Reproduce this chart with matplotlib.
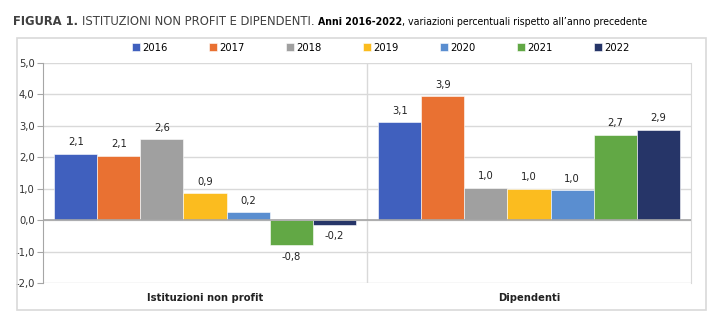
import numpy as np
import matplotlib.pyplot as plt
from matplotlib.patches import Rectangle

categories = ['Istituzioni non profit', 'Dipendenti']
years = ['2016', '2017', '2018', '2019', '2020', '2021', '2022']
istituzioni = [2.12, 2.05, 2.58, 0.85, 0.25, -0.80, -0.15]
dipendenti = [3.11, 3.94, 1.03, 1.00, 0.96, 2.72, 2.88]
labels_ist = ['2,1', '2,1', '2,6', '0,9', '0,2', '-0,8', '-0,2']
labels_dip = ['3,1', '3,9', '1,0', '1,0', '1,0', '2,7', '2,9']
colors = ['#4060BE', '#E97132', '#A0A0A0', '#FBBC1F', '#5A8ED0', '#62A845', '#263568']
yticks = [-2, -1, 0, 1, 2, 3, 4, 5]

plt.rcParams['font.family'] = ['DejaVu Sans']
plt.rcParams['font.stretch'] = 'condensed'

fig = plt.figure(figsize=(7.27, 3.24), dpi=100)
fig.patches.append(Rectangle((17 / 727, 1 - 310 / 324), 689 / 727, 272 / 324,
                             transform=fig.transFigure, fill=False,
                             edgecolor='#D9D9D9', linewidth=1.2))
ax = fig.add_axes([43 / 727, 41 / 324, 648 / 727, 220 / 324])

bw = 0.133
x = np.arange(len(categories))
for i, yr in enumerate(years):
    vals = [istituzioni[i], dipendenti[i]]
    labs = [labels_ist[i], labels_dip[i]]
    pos = x - 3 * bw + i * bw
    ax.bar(pos, vals, width=bw, color=colors[i], label=yr, zorder=3,
           edgecolor='white', linewidth=0.4)
    for p, v, l in zip(pos, vals, labs):
        off = 0.2 if v >= 0 else -0.2
        ax.text(p, v + off, l, ha='center', va='bottom' if v >= 0 else 'top',
                fontsize=8, color='#222222')

ax.set_xlim(-0.5, 1.5)
ax.set_ylim(-2, 5)
ax.set_yticks(yticks)
ax.set_yticklabels([('%.1f' % t).replace('.', ',') for t in yticks],
                   fontsize=8, color='#333333')
ax.yaxis.grid(True, color='#D9D9D9', linewidth=1, zorder=0)
ax.axvline(0.5, color='#D9D9D9', linewidth=1, zorder=0)
ax.axhline(0, color='#A6A6A6', linewidth=1.2, zorder=4)
ax.set_xticks(x)
ax.set_xticklabels(categories, fontsize=8, fontweight='bold', color='#222222')
ax.tick_params(axis='x', length=0, pad=7)
ax.tick_params(axis='y', length=4, color='#A6A6A6', pad=2)
for s in ['top', 'bottom']:
    ax.spines[s].set_visible(False)
ax.spines['right'].set_color('#D9D9D9')
ax.spines['left'].set_color('#A6A6A6')

ax.legend(loc='center', bbox_to_anchor=(0.521, 1.07), ncol=7, frameon=False,
          fontsize=8, handlelength=0.7, handleheight=0.7, handletextpad=0.2,
          columnspacing=3.75, borderaxespad=0)

# title in pieces
parts = [('FIGURA 1. ', 'bold', '#404040', 9.3),
         ('ISTITUZIONI NON PROFIT E DIPENDENTI. ', 'normal', '#404040', 9.3),
         ('Anni 2016-2022', 'bold', '#000000', 7.6),
         (', variazioni percentuali rispetto all\u2019anno precedente', 'normal', '#000000', 7.6)]
fig.canvas.draw()
r = fig.canvas.get_renderer()
xpos = 13 / 727
for txt, w, c, fs in parts:
    t = fig.text(xpos, 1 - 25 / 324, txt, fontsize=fs, fontweight=w, color=c,
                 ha='left', va='baseline')
    bb = t.get_window_extent(renderer=r)
    xpos += bb.width / fig.bbox.width

fig.savefig('out.png', dpi=100)
